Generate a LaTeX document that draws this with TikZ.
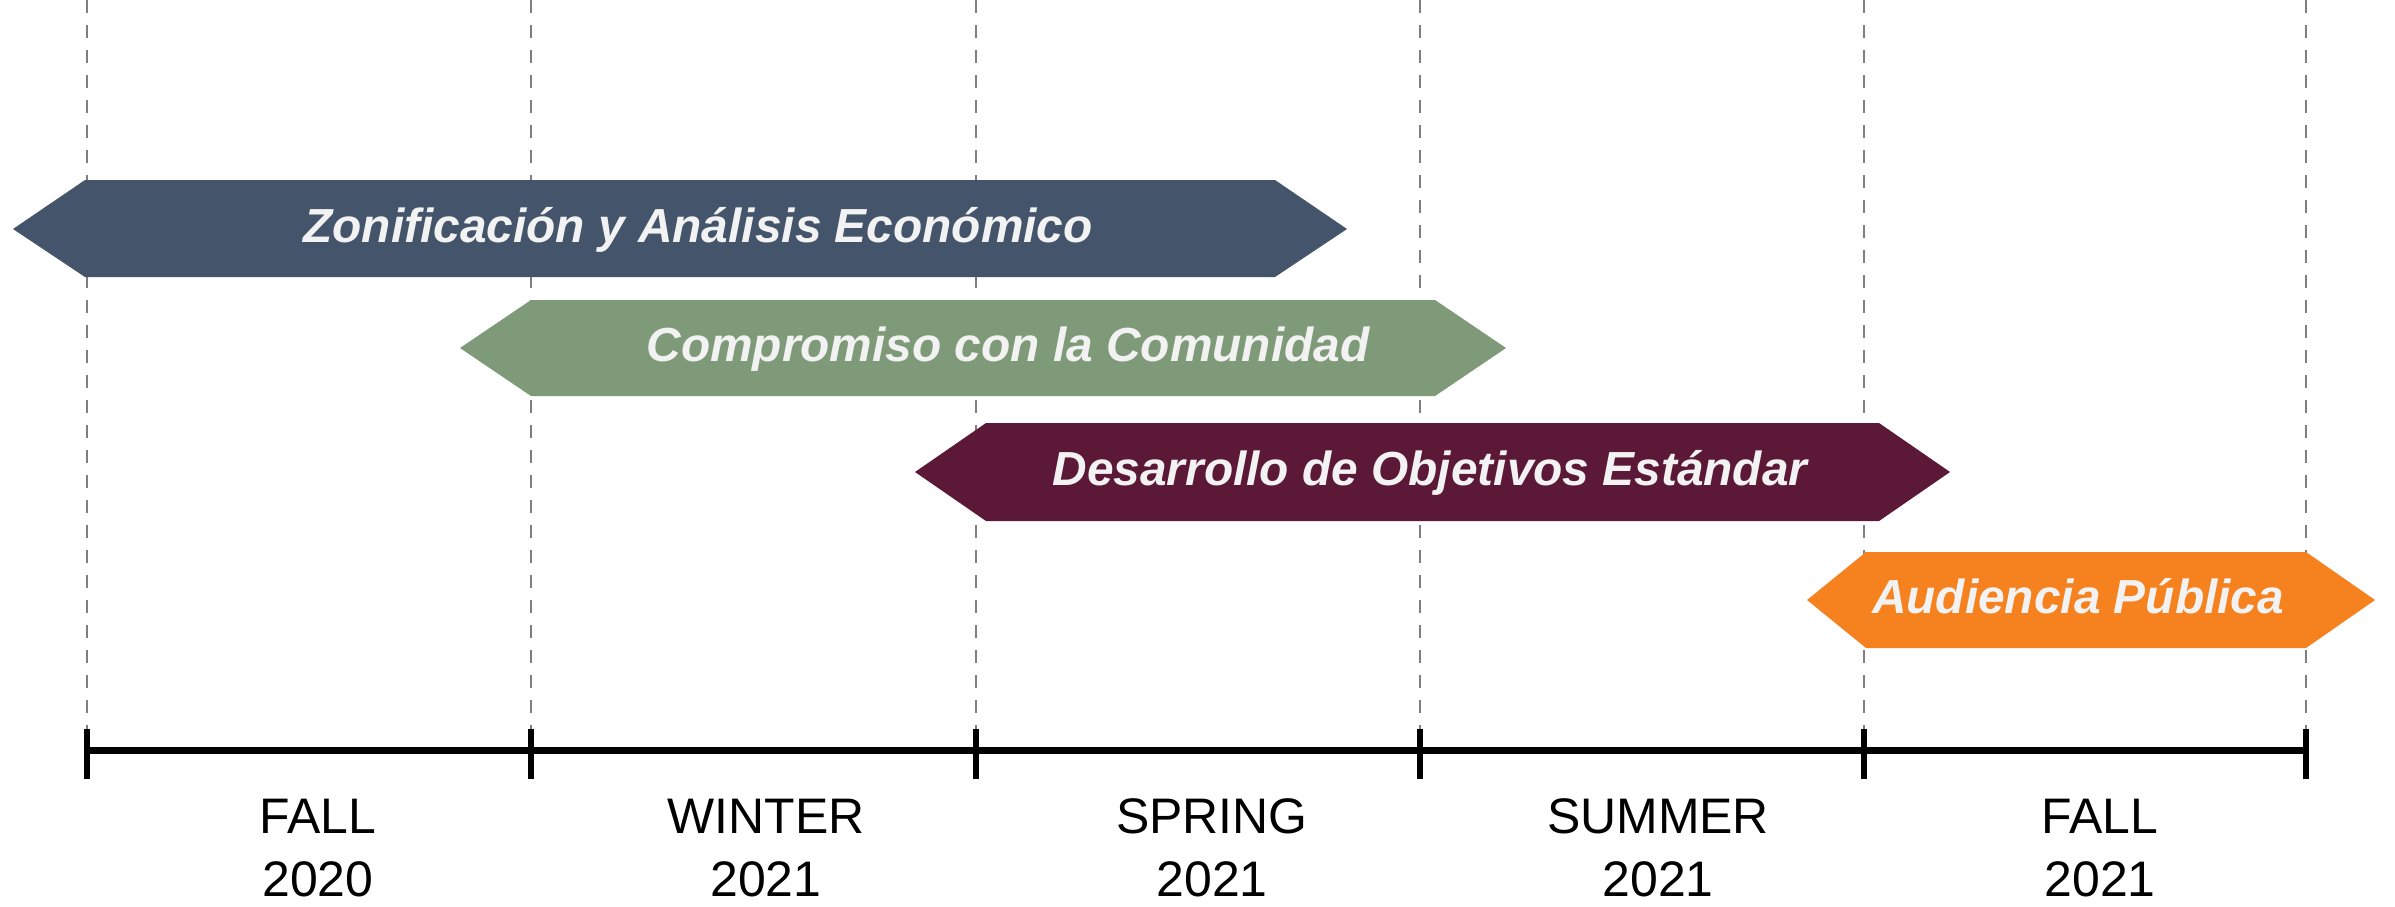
\documentclass[tikz,border=0pt]{standalone}
\usepackage{fontspec}
\setmainfont{Liberation Sans}
\definecolor{cZon}{HTML}{44546A}
\definecolor{cCom}{HTML}{7F9A78}
\definecolor{cDes}{HTML}{5C1837}
\definecolor{cAud}{HTML}{F5821F}
\definecolor{cTxt}{HTML}{F2F2F2}
\definecolor{cGrid}{HTML}{7F7F7F}
\begin{document}
\begin{tikzpicture}[x=0.01cm,y=-0.01cm,
  gridline/.style={draw=cGrid, line width=0.022cm, dash pattern=on 0.13cm off 0.12cm},
  axisline/.style={draw=black, line width=0.07cm},
  tickmark/.style={draw=black, line width=0.065cm},
  bartext/.style={text=cTxt, font=\fontsize{13.6}{16}\selectfont\bfseries\itshape, inner sep=0pt, anchor=base},
  season/.style={font=\fontsize{14.2}{17.9}\selectfont, align=center, inner sep=0pt, anchor=north},
]
\useasboundingbox (0,0) rectangle (2395,906);

% grid coordinates
\foreach \i/\x in {0/87,1/531,2/976,3/1420,4/1864,5/2306}{
  \coordinate (g\i) at (\x,0);
  \coordinate (gb\i) at (\x,730);
  \coordinate (t\i) at (\x,750);
  \coordinate (tt\i) at (\x,729);
  \coordinate (tb\i) at (\x,779);
}
\foreach \i in {0,...,5}{ \draw[gridline] (g\i) -- (gb\i); }

% bars
\fill[cZon] (13,229) -- (85,180) -- (1275,180) -- (1347,229) -- (1275,277) -- (85,277) -- cycle;
\fill[cCom] (460,348) -- (531,300) -- (1435,300) -- (1506,348) -- (1435,396) -- (531,396) -- cycle;
\fill[cDes] (915,472) -- (986,423) -- (1879,423) -- (1950,472) -- (1879,521) -- (986,521) -- cycle;
\fill[cAud] (1807,600) -- (1866,552) -- (2306,552) -- (2375,600) -- (2306,648) -- (1866,648) -- cycle;

\node[bartext] (zon) at (698,242) {Zonificación y Análisis Económico};
\node[bartext] (com) at (1008,361) {Compromiso con la Comunidad};
\node[bartext] (des) at (1430,485) {Desarrollo de Objetivos Estándar};
\node[bartext] (aud) at (2078,613) {Audiencia Pública};

% axis
\draw[axisline] (t0) -- (t5);
\foreach \i in {0,...,5}{ \draw[tickmark] (tt\i) -- (tb\i); }

% season labels
\node[season] (s1) at (318,798) {FALL\\2020};
\node[season] (s2) at (766,798) {WINTER\\2021};
\node[season] (s3) at (1212,798) {SPRING\\2021};
\node[season] (s4) at (1658,798) {SUMMER\\2021};
\node[season] (s5) at (2100,798) {FALL\\2021};
\end{tikzpicture}
\end{document}
